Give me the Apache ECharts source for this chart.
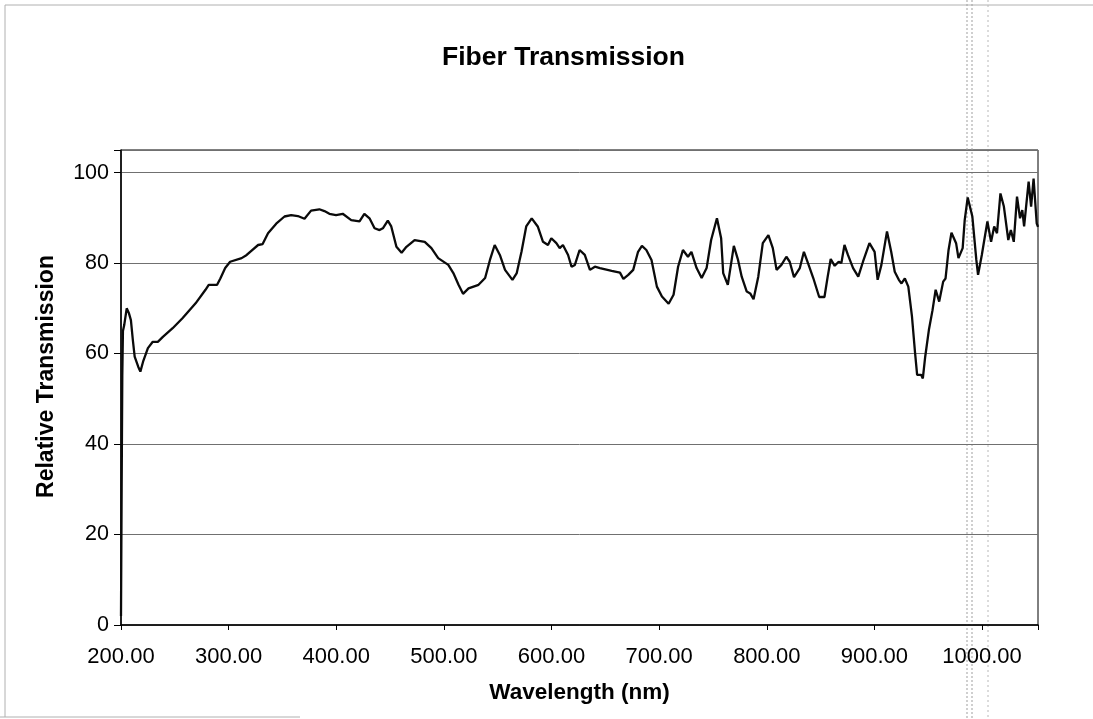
<!DOCTYPE html>
<html>
<head>
<meta charset="utf-8">
<script src="https://cdn.jsdelivr.net/npm/echarts@6/dist/echarts.min.js"></script>
<style>
html,body{margin:0;padding:0;background:#fff;}
#chart{width:1093px;height:719px;}
</style>
</head>
<body>
<div id="chart"></div>
<script>
const titleText = 'Fiber Transmission';
const xAxisName = 'Wavelength (nm)';
const yAxisName = 'Relative Transmission';
const yTicks = [0, 20, 40, 60, 80, 100];
const xTicks = [200, 300, 400, 500, 600, 700, 800, 900, 1000];

const wavelengths = [
200, 200.6, 201.2, 201.8, 203, 205.3, 207.4, 209.2, 211, 212.7, 216, 218, 220.5, 225, 229.5, 234.2, 238.9, 248, 257.1, 269.3,
278.5, 281.5, 289.3, 292.3, 296.8, 301.4, 312.1, 316.8, 320, 327.4, 331.6, 336.6, 344.2, 351.9, 358.1, 364.3, 370.5, 376.6, 384.3, 389,
393.6, 399.8, 406, 413.9, 421.6, 426.1, 430.9, 435.6, 440.2, 443.3, 447.9, 451.1, 455.9, 460.7, 465.2, 472.8, 482.2, 488.4, 494.7, 504.1,
508.8, 513.6, 517.8, 522.9, 532.2, 538.3, 542.8, 547.2, 552, 556.8, 563.7, 567.7, 572.1, 576.5, 581.6, 587.2, 592.1, 596.7, 599.8, 604.5,
607.6, 610.6, 615.4, 618.6, 621.7, 626.1, 630.9, 635.7, 640.3, 645, 655.9, 663.6, 666.8, 671.3, 675.9, 680.4, 684, 688.1, 692.9, 697.9,
702.6, 708.8, 713.4, 717.6, 722.1, 726.8, 730, 734.8, 739.5, 744.1, 748.3, 753.7, 757.6, 759.5, 763.8, 765.7, 769.4, 773.3, 776.7, 781.4,
784.6, 787.7, 792.1, 796.3, 801.5, 805.6, 809.1, 813.6, 818.2, 821.3, 825.3, 830.7, 834.5, 838.3, 843.2, 848.7, 853.6, 856.6, 859.4, 863.1,
866.8, 869.3, 872.2, 875.4, 880.2, 885, 889.4, 895.4, 900.2, 903, 906.5, 911.7, 915.6, 918.9, 922.7, 925.2, 928.3, 931.5, 934.9, 937.8,
939.7, 943.4, 945, 947.2, 950.6, 954, 956.9, 960.2, 963.9, 966.1, 968.9, 971.6, 975.9, 978.1, 982, 983.9, 986.7, 991, 994.7, 996.3,
999.8, 1002.1, 1005, 1008.4, 1011.3, 1013.9, 1017.1, 1020.3, 1024.4, 1026.8, 1029.5, 1032.5, 1035.3, 1037.4, 1039.1, 1043.3, 1045.6, 1047.9, 1050.8, 1052
];
const transmission = [
2, 30, 55, 65, 66.3, 70, 68.9, 67.4, 63, 59.3, 57.1, 56, 58.2, 61.2, 62.6, 62.6, 63.7, 65.6, 67.8, 71.1,
74.1, 75.2, 75.2, 76.6, 78.9, 80.3, 81.1, 81.8, 82.5, 84, 84.2, 86.6, 88.7, 90.3, 90.6, 90.4, 89.8, 91.6, 91.9, 91.5,
90.9, 90.6, 90.9, 89.5, 89.2, 90.9, 89.9, 87.7, 87.3, 87.7, 89.4, 88.1, 83.6, 82.3, 83.6, 85.1, 84.7, 83.3, 81.1, 79.6,
77.8, 75.2, 73.2, 74.4, 75.2, 76.7, 80.7, 84, 81.8, 78.5, 76.3, 77.8, 82.5, 88.1, 89.9, 88.1, 84.7, 84, 85.5, 84.4,
83.3, 84, 81.8, 79.2, 79.6, 82.9, 81.8, 78.5, 79.2, 78.9, 78.3, 77.9, 76.5, 77.4, 78.5, 82.5, 83.8, 82.9, 80.7, 74.8,
72.6, 71, 73, 79.2, 82.9, 81.4, 82.5, 78.9, 76.7, 78.9, 85.1, 89.9, 85.5, 77.8, 75.2, 78.1, 83.8, 80.7, 77, 73.7,
73.3, 72, 77, 84.4, 86.2, 83.3, 78.5, 79.6, 81.4, 80.3, 76.9, 78.9, 82.5, 80, 76.7, 72.5, 72.5, 77, 80.9, 79.4,
80.3, 80, 84, 81.8, 78.9, 77, 80.3, 84.4, 82.5, 76.3, 79.6, 87, 82.5, 78.1, 76.3, 75.5, 76.6, 74.8, 68.2, 60.1,
55.3, 55.3, 54.5, 59.3, 65.2, 69.6, 74.1, 71.5, 75.9, 76.6, 82.9, 86.7, 84.4, 81.1, 83.3, 89.5, 94.5, 90.3, 80.7, 77.4,
81.8, 85.1, 89.2, 84.7, 88.1, 86.6, 95.4, 92.5, 85.1, 87.3, 84.7, 94.7, 89.9, 91.7, 88.1, 98, 92.5, 98.7, 88.8, 88
];

const seriesData = wavelengths.map((w, i) => [w, transmission[i]]);
const fontFamily = '"Liberation Sans", Arial, Helvetica, sans-serif';

const chart = echarts.init(document.getElementById('chart'), null, {renderer: 'canvas'});
chart.setOption({
  backgroundColor: '#ffffff',
  animation: false,
  title: {
    text: titleText,
    left: 437,
    top: 39,
    textStyle: {fontFamily: fontFamily, fontSize: 26.5, fontWeight: 'bold', color: '#000'}
  },
  grid: {
    left: 121, right: 55, top: 150, bottom: 94,
    show: true, borderColor: '#000', borderWidth: 1, backgroundColor: 'transparent'
  },
  xAxis: {
    type: 'value',
    min: 200,
    max: 1052,
    interval: 100,
    name: xAxisName,
    nameLocation: 'middle',
    nameGap: 56,
    nameTextStyle: {fontFamily: fontFamily, fontSize: 22.5, fontWeight: 'bold', color: '#000'},
    axisLine: {show: true, lineStyle: {color: '#000', width: 1.5}},
    axisTick: {show: true, length: 5, inside: false, lineStyle: {color: '#000'}},
    axisLabel: {
      margin: 21,
      fontFamily: fontFamily, fontSize: 22, color: '#000',
      formatter: function (v) { return xTicks.indexOf(v) >= 0 ? v.toFixed(2) : ''; }
    },
    splitLine: {show: false}
  },
  yAxis: {
    type: 'value',
    min: 0,
    max: 105,
    interval: 20,
    name: yAxisName,
    nameLocation: 'middle',
    nameGap: 63,
    nameTextStyle: {fontFamily: fontFamily, fontSize: 23, fontWeight: 'bold', color: '#000', padding: [0, 0, 0, 22]},
    axisLine: {show: true, lineStyle: {color: '#000', width: 1.5}},
    axisTick: {show: true, length: 7, inside: false, lineStyle: {color: '#000'}},
    axisLabel: {
      margin: 12,
      fontFamily: fontFamily, fontSize: 21.5, color: '#000',
      formatter: function (v) { return yTicks.indexOf(v) >= 0 ? String(v) : ''; }
    },
    splitLine: {show: true, lineStyle: {color: '#707070', width: 1}}
  },
  series: [{
    type: 'line',
    data: seriesData,
    showSymbol: false,
    symbol: 'none',
    smooth: false,
    lineStyle: {color: '#0a0a0a', width: 2.3},
    z: 3
  }],
  graphic: [
    {type: 'polyline', silent: true, shape: {points: [[5, 717], [5, 5], [1093, 5]]}, style: {stroke: '#b0b0b0', lineWidth: 1, fill: null}},
    {type: 'line', silent: true, shape: {x1: 0, y1: 717, x2: 300, y2: 717}, style: {stroke: '#b0b0b0', lineWidth: 1}},
    {type: 'line', silent: true, shape: {x1: 967, y1: 0, x2: 967, y2: 719}, style: {stroke: '#a0a0a0', lineWidth: 1, lineDash: [2, 2]}},
    {type: 'line', silent: true, shape: {x1: 972, y1: 0, x2: 972, y2: 719}, style: {stroke: '#a0a0a0', lineWidth: 1, lineDash: [2, 2]}},
    {type: 'line', silent: true, shape: {x1: 988, y1: 0, x2: 988, y2: 719}, style: {stroke: '#b8b8b8', lineWidth: 1, lineDash: [2, 3]}}
  ]
});
</script>
</body>
</html>
